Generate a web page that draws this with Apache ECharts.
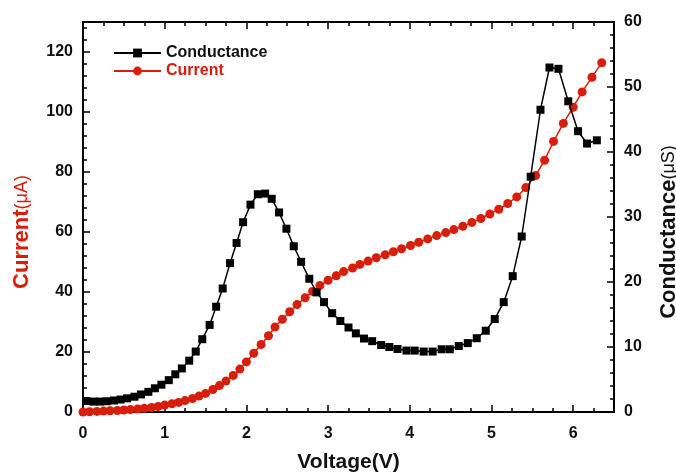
<!DOCTYPE html>
<html>
<head>
<meta charset="utf-8">
<script src="https://cdn.jsdelivr.net/npm/echarts@6/dist/echarts.min.js"></script>
<style>
  html, body { margin: 0; padding: 0; background: #fff; }
  #chart { width: 676px; height: 472px; }
</style>
</head>
<body>
<div id="chart"></div>
<script>
// I–V sweep: bias voltage (V) and measured current (µA)
const voltage = [
  0, 0.08, 0.17, 0.25, 0.33, 0.42, 0.50, 0.58, 0.67, 0.75, 0.84, 0.92, 1.00,
  1.09, 1.17, 1.25, 1.34, 1.42, 1.50, 1.59, 1.67, 1.75, 1.84, 1.92, 2.00,
  2.09, 2.18, 2.27, 2.35, 2.44, 2.53, 2.62, 2.72, 2.81,
  2.90, 3.00, 3.10, 3.19, 3.30, 3.39, 3.49, 3.59, 3.70, 3.80, 3.90, 4.01, 4.11, 4.22, 4.33,
  4.44, 4.54, 4.65, 4.76, 4.87, 4.98, 5.09, 5.20, 5.31, 5.42, 5.54, 5.65, 5.76, 5.88, 6.00, 6.11, 6.23, 6.35
];
const current = [
  0, 0.1, 0.2, 0.3, 0.4, 0.5, 0.65, 0.8, 1.0, 1.25, 1.5, 1.85, 2.3,
  2.75, 3.2, 3.8, 4.5, 5.3, 6.2, 7.5, 8.8, 10.3, 12.2, 14.3, 16.7,
  19.6, 22.5, 25.4, 28.3, 30.9, 33.4, 35.8, 38.1, 40.2,
  42.2, 43.9, 45.4, 46.8, 48.0, 49.2, 50.3, 51.4, 52.4, 53.4, 54.4, 55.5, 56.6, 57.7, 58.8,
  59.8, 60.8, 61.9, 63.2, 64.5, 66.0, 67.6, 69.5, 71.7, 74.8, 78.8, 83.9, 90.2, 96.2, 101.6, 106.7, 111.6, 116.4
];

// Differential conductance dI/dV (µS), taken between neighbouring bias points
const gVoltage = [
  0.04, 0.13, 0.21, 0.29, 0.38, 0.46, 0.54, 0.63, 0.71, 0.80, 0.88, 0.96,
  1.05, 1.13, 1.21, 1.30, 1.38, 1.46, 1.55, 1.63, 1.71, 1.80, 1.88, 1.96,
  2.05, 2.14, 2.23, 2.31, 2.40, 2.49, 2.58, 2.67, 2.77,
  2.86, 2.95, 3.05, 3.15, 3.25, 3.34, 3.44, 3.54, 3.65, 3.75, 3.85, 3.96, 4.06, 4.17, 4.28,
  4.39, 4.49, 4.60, 4.71, 4.82, 4.93, 5.04, 5.15, 5.26, 5.37, 5.48, 5.60, 5.71, 5.82, 5.94, 6.06, 6.17, 6.29
];
const conductance = [
  1.7, 1.6, 1.6, 1.65, 1.77, 1.92, 2.1, 2.35, 2.7, 3.1, 3.65, 4.2,
  4.9, 5.8, 6.7, 7.9, 9.3, 11.2, 13.4, 16.2, 19.0, 22.9, 26.0, 29.2,
  31.9, 33.5, 33.6, 32.8, 30.7, 28.2, 25.5, 23.1, 20.5,
  18.4, 16.9, 15.2, 14.0, 13.0, 12.1, 11.3, 10.9, 10.3, 10.0, 9.7, 9.45, 9.45, 9.3, 9.3,
  9.65, 9.65, 10.15, 10.6, 11.35, 12.5, 14.3, 16.9, 20.9, 27.0, 36.2, 46.5, 53.0, 52.8, 47.8, 43.2, 41.3, 41.8
];

// Axis ranges and tick spacing
const xRange = [0, 6.5];
const xMajor = 1, xMinor = 0.25;
const iRange = [0, 130];
const iMajor = 20, iMinor = 4;
const gRange = [0, 60];
const gMajor = 10, gMinor = 2;

const RED = '#d81e0a';
const FONT = '"Liberation Sans", Arial, sans-serif';

const lineW = 2;
const tickStyle = { color: '#000', width: 1.5 };

function majorX(position, withLabels) {
  return {
    type: 'value', position, min: xRange[0], max: xRange[1], interval: xMajor,
    axisLine: { show: true, onZero: false, lineStyle: { color: '#000', width: lineW } },
    axisTick: { show: true, inside: true, length: 7, lineStyle: tickStyle },
    axisLabel: withLabels ? {
      show: true, margin: 14, color: '#111', fontSize: 16, fontWeight: 'bold', fontFamily: FONT,
      formatter: v => (Math.abs(v - Math.round(v)) < 1e-9 && v <= 6) ? String(Math.round(v)) : ''
    } : { show: false },
    splitLine: { show: false }
  };
}
function minorX(position) {
  return {
    type: 'value', position, min: xRange[0], max: xRange[1], interval: xMinor,
    axisLine: { show: false, onZero: false },
    axisTick: { show: true, inside: true, length: 4, lineStyle: tickStyle },
    axisLabel: { show: false }, splitLine: { show: false }
  };
}
function majorY(position, range, step, limit) {
  return {
    type: 'value', position, min: range[0], max: range[1], interval: step,
    axisLine: { show: true, onZero: false, lineStyle: { color: '#000', width: lineW } },
    axisTick: { show: true, inside: true, length: 7, lineStyle: tickStyle },
    axisLabel: {
      show: true, margin: 10, color: '#111', fontSize: 16, fontWeight: 'bold', fontFamily: FONT,
      formatter: v => (v <= limit ? String(v) : '')
    },
    splitLine: { show: false }
  };
}
function minorY(position, range, step) {
  return {
    type: 'value', position, min: range[0], max: range[1], interval: step,
    axisLine: { show: false, onZero: false },
    axisTick: { show: true, inside: true, length: 4, lineStyle: tickStyle },
    axisLabel: { show: false }, splitLine: { show: false }
  };
}

const xAxes = [
  Object.assign(majorX('bottom', true), {
    name: 'Voltage(V)', nameLocation: 'middle', nameGap: 40,
    nameTextStyle: { color: '#111', fontSize: 21, fontWeight: 'bold', fontFamily: FONT }
  }),
  minorX('bottom'),
  majorX('top', false),
  minorX('top')
];

const yAxes = [
  Object.assign(majorY('left', iRange, iMajor, 120), {
    name: '{a|Current}{b|(μA)}', nameLocation: 'middle', nameGap: 50, nameRotate: 90,
    nameTextStyle: {
      padding: [0, 30, 0, 0],
      rich: {
        a: { color: RED, fontSize: 22, fontWeight: 'bold', fontFamily: FONT },
        b: { color: RED, fontSize: 18, fontFamily: FONT }
      }
    }
  }),
  minorY('left', iRange, iMinor),
  Object.assign(majorY('right', gRange, gMajor, 60), {
    name: '{a|Conductance}{b|(μS)}', nameLocation: 'middle', nameGap: 44, nameRotate: 90,
    nameTextStyle: {
      padding: [0, 30, 0, 0],
      rich: {
        a: { color: '#111', fontSize: 22, fontWeight: 'bold', fontFamily: FONT },
        b: { color: '#111', fontSize: 18, fontFamily: FONT }
      }
    }
  }),
  minorY('right', gRange, gMinor)
];

const chart = echarts.init(document.getElementById('chart'), null, { renderer: 'canvas' });
chart.setOption({
  animation: false,
  backgroundColor: '#fff',
  grid: { left: 83, right: 62, top: 22, bottom: 60, containLabel: false, outerBoundsMode: 'none' },
  legend: {
    orient: 'vertical', left: 108, top: 40, itemGap: 2,
    itemWidth: 47, itemHeight: 11,
    textStyle: { fontSize: 16, fontWeight: 'bold', fontFamily: FONT },
    data: [
      { name: 'Conductance', textStyle: { color: '#111' } },
      { name: 'Current', textStyle: { color: RED } }
    ]
  },
  xAxis: xAxes,
  yAxis: yAxes,
  series: [
    {
      name: 'Current', type: 'line', xAxisIndex: 0, yAxisIndex: 0,
      data: voltage.map((v, i) => [v, current[i]]),
      symbol: 'circle', symbolSize: 9,
      itemStyle: { color: RED },
      lineStyle: { color: RED, width: 1.5 },
      z: 2
    },
    {
      name: 'Conductance', type: 'line', xAxisIndex: 0, yAxisIndex: 2,
      data: gVoltage.map((v, i) => [v, conductance[i]]),
      symbol: 'rect', symbolSize: 8,
      itemStyle: { color: '#000' },
      lineStyle: { color: '#000', width: 1.5 },
      z: 3
    }
  ]
});
</script>
</body>
</html>
